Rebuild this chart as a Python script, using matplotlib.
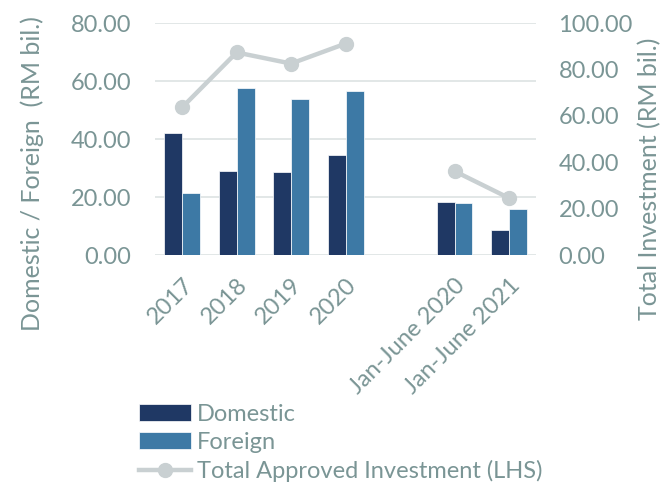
import numpy as np
import matplotlib.pyplot as plt

categories = ["2017", "2018", "2019", "2020", "", "Jan-June 2020", "Jan-June 2021"]
domestic = [42.0, 29.1, 28.6, 34.5, np.nan, 18.3, 8.6]
foreign = [21.3, 57.8, 53.8, 56.6, np.nan, 17.8, 15.8]
total = [63.7, 87.4, 82.6, 91.2, np.nan, 36.2, 24.6]

txt_color = "#7a9595"
plt.rcParams["font.family"] = ["Lato", "DejaVu Sans"]

fig = plt.figure(figsize=(6.62, 4.84), dpi=100)
ax = fig.add_axes([0.234, 0.473, 0.576, 0.479])
ax2 = ax.twinx()

x = np.arange(len(categories))
w = 0.33
ax.bar(x - w / 2, domestic, w, color="#1f3864", edgecolor="white", linewidth=0.5,
       label="Domestic", zorder=2)
ax.bar(x + w / 2, foreign, w, color="#3d79a5", edgecolor="white", linewidth=0.5,
       label="Foreign", zorder=2)
ax2.plot(x, total, color="#c9d0d2", linewidth=3.2, marker="o", markersize=10,
         label="Total Approved Investment (LHS)")

ax.set_xlim(-0.5, len(categories) - 0.5)
ax.set_ylim(0, 80)
ax2.set_ylim(0, 100)
ax.set_yticks(np.arange(0, 81, 20))
ax2.set_yticks(np.arange(0, 101, 20))
ax.set_yticklabels([f"{v:.2f}" for v in np.arange(0, 81, 20)])
ax2.set_yticklabels([f"{v:.2f}" for v in np.arange(0, 101, 20)])
ax.grid(axis="y", color="#dde3e3", linewidth=1.2, zorder=0)
ax.set_axisbelow(True)

ax.set_xticks(x)
ax.set_xticklabels(categories, rotation=45, ha="right", rotation_mode="anchor")

for a in (ax, ax2):
    for s in a.spines.values():
        s.set_visible(False)
    a.tick_params(length=0, labelsize=17, labelcolor=txt_color)
ax.tick_params(axis="y", pad=17)
ax2.tick_params(axis="y", pad=16)
ax.tick_params(axis="x", pad=14)

ax.set_ylabel("Domestic / Foreign  (RM bil.)", fontsize=18, color=txt_color)
ax.yaxis.set_label_coords(-0.29, 0.353)
ax2.set_ylabel("Total Investment (RM bil.)", fontsize=18, color=txt_color)
ax2.yaxis.set_label_coords(1.268, 0.33)

h1, l1 = ax.get_legend_handles_labels()
h2, l2 = ax2.get_legend_handles_labels()
leg = fig.legend(h1 + h2, l1 + l2, loc="upper left", bbox_to_anchor=(0.21, 0.166),
                 frameon=False, fontsize=17, handlelength=2.2, handletextpad=0.25,
                 labelspacing=0.3, borderaxespad=0, borderpad=0)
for t in leg.get_texts():
    t.set_color(txt_color)

fig.savefig("out.png", dpi=100)
